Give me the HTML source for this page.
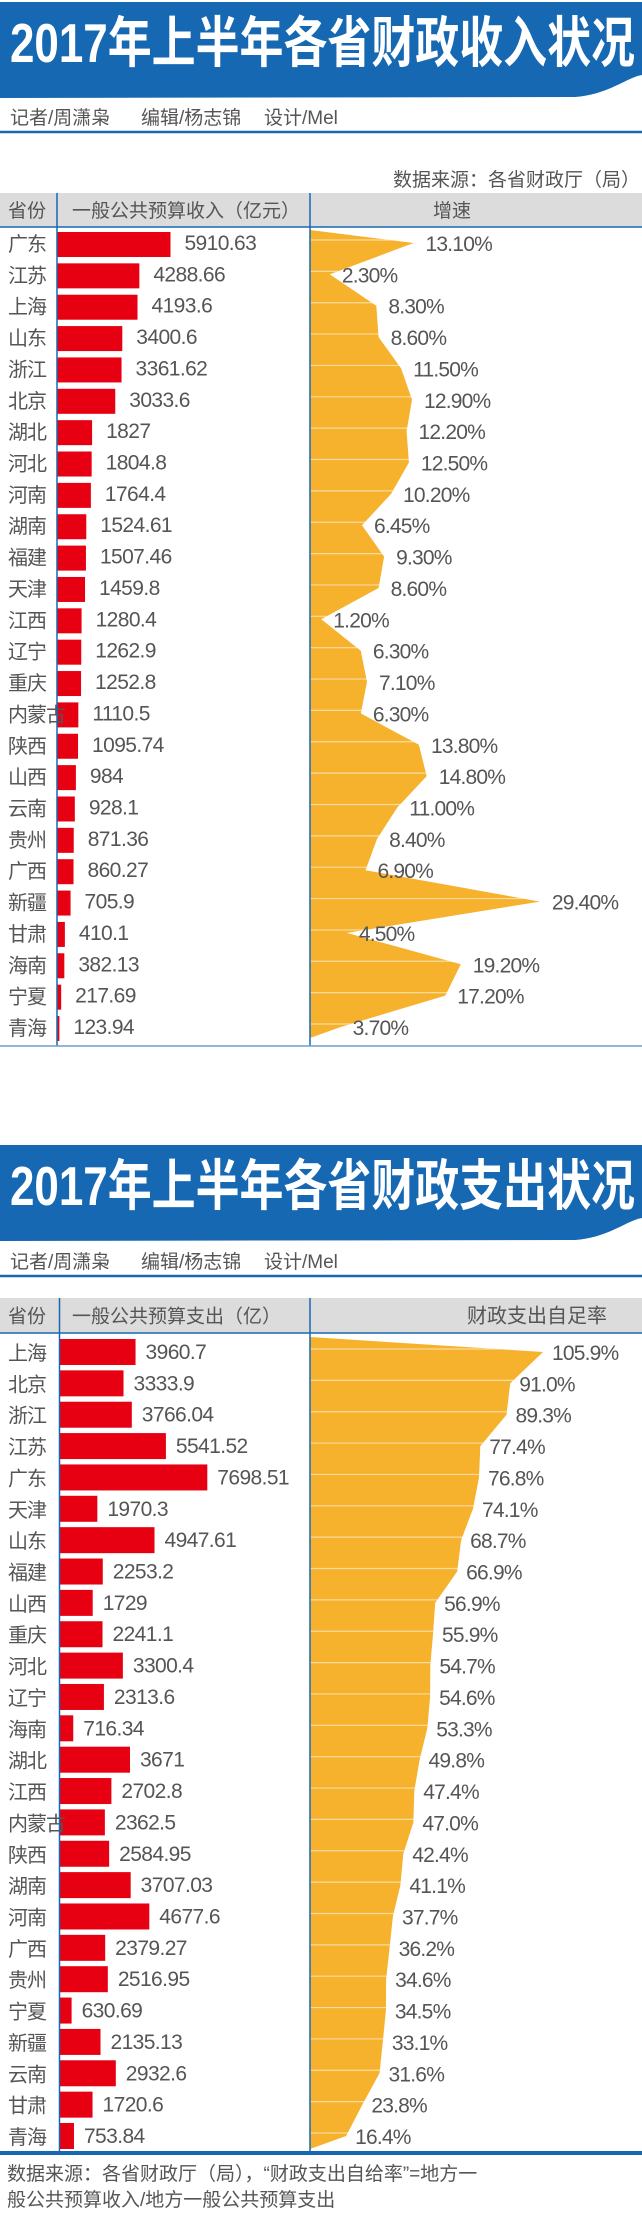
<!DOCTYPE html>
<html><head><meta charset="utf-8">
<style>
html,body{margin:0;padding:0;background:#fff;}
svg{display:block;}
text{font-family:"Liberation Sans","Noto Sans CJK SC",sans-serif;}
</style></head>
<body>
<svg id="root" width="642" height="2229" viewBox="0 0 642 2229" xmlns="http://www.w3.org/2000/svg">
<defs>
<clipPath id="clip1"><polygon id="clip1poly" points="0,0"/></clipPath>
<clipPath id="clip2"><polygon id="clip2poly" points="0,0"/></clipPath>
</defs>
</svg>
<script>
// ---- Chart 1 data: revenue ----
var provinces1 = ["广东","江苏","上海","山东","浙江","北京","湖北","河北","河南","湖南","福建","天津","江西","辽宁","重庆","内蒙古","陕西","山西","云南","贵州","广西","新疆","甘肃","海南","宁夏","青海"];
var revenue = [5910.63,4288.66,4193.6,3400.6,3361.62,3033.6,1827,1804.8,1764.4,1524.61,1507.46,1459.8,1280.4,1262.9,1252.8,1110.5,1095.74,984,928.1,871.36,860.27,705.9,410.1,382.13,217.69,123.94];
var revenueLabels = ["5910.63","4288.66","4193.6","3400.6","3361.62","3033.6","1827","1804.8","1764.4","1524.61","1507.46","1459.8","1280.4","1262.9","1252.8","1110.5","1095.74","984","928.1","871.36","860.27","705.9","410.1","382.13","217.69","123.94"];
var growth = [13.1,2.3,8.3,8.6,11.5,12.9,12.2,12.5,10.2,6.45,9.3,8.6,1.2,6.3,7.1,6.3,13.8,14.8,11.0,8.4,6.9,29.4,4.5,19.2,17.2,3.7];
var growthLabels = ["13.10%","2.30%","8.30%","8.60%","11.50%","12.90%","12.20%","12.50%","10.20%","6.45%","9.30%","8.60%","1.20%","6.30%","7.10%","6.30%","13.80%","14.80%","11.00%","8.40%","6.90%","29.40%","4.50%","19.20%","17.20%","3.70%"];
// ---- Chart 2 data: expenditure ----
var provinces2 = ["上海","北京","浙江","江苏","广东","天津","山东","福建","山西","重庆","河北","辽宁","海南","湖北","江西","内蒙古","陕西","湖南","河南","广西","贵州","宁夏","新疆","云南","甘肃","青海"];
var expenditure = [3960.7,3333.9,3766.04,5541.52,7698.51,1970.3,4947.61,2253.2,1729,2241.1,3300.4,2313.6,716.34,3671,2702.8,2362.5,2584.95,3707.03,4677.6,2379.27,2516.95,630.69,2135.13,2932.6,1720.6,753.84];
var expenditureLabels = ["3960.7","3333.9","3766.04","5541.52","7698.51","1970.3","4947.61","2253.2","1729","2241.1","3300.4","2313.6","716.34","3671","2702.8","2362.5","2584.95","3707.03","4677.6","2379.27","2516.95","630.69","2135.13","2932.6","1720.6","753.84"];
var selfRate = [105.9,91.0,89.3,77.4,76.8,74.1,68.7,66.9,56.9,55.9,54.7,54.6,53.3,49.8,47.4,47.0,42.4,41.1,37.7,36.2,34.6,34.5,33.1,31.6,23.8,16.4];
var selfRateLabels = ["105.9%","91.0%","89.3%","77.4%","76.8%","74.1%","68.7%","66.9%","56.9%","55.9%","54.7%","54.6%","53.3%","49.8%","47.4%","47.0%","42.4%","41.1%","37.7%","36.2%","34.6%","34.5%","33.1%","31.6%","23.8%","16.4%"];

var NS="http://www.w3.org/2000/svg";
var root=document.getElementById('root');
function mk(tag,attrs,parent){var e=document.createElementNS(NS,tag);for(var k in attrs)e.setAttribute(k,attrs[k]);(parent||root).appendChild(e);return e;}
function txt(s,attrs,parent){var e=mk('text',attrs,parent);e.textContent=s;return e;}

var BLUE="#1668b3", RED="#e60012", ORANGE="#f6b12d", GREY="#555";
var PITCH=31.36;

function banner(y0,title){
  var g=mk('g',{});
  
  
  var p=mk('path',{d:'M0,'+(y0)+' H642 V'+(y0+73)+' C625,'+(y0+76)+' 610,'+(y0+92)+' 575,'+(y0+95)+' L0,'+(y0+96)+' Z',fill:BLUE},g);
  
  
  var t=txt(title,{x:10,y:y0+60,'font-size':55,'font-weight':'bold',fill:'#fff',textLength:625,lengthAdjust:'spacingAndGlyphs'},g);
  
  
}
function byline(y){
  var g=mk('g',{'font-size':19,fill:GREY});
  
  
  var a=txt('记者/周潇枭',{x:10,y:y},g);
  var b=txt('编辑/杨志锦',{x:141,y:y},g);
  var c=txt('设计/Mel',{x:264,y:y},g);
}

function chart(cfg){
  var g=mk('g',{});
  
  
  // header
  var hb=mk('rect',{x:0,y:cfg.headTop,width:642,height:cfg.headBot-cfg.headTop,fill:'#dcdcdc'},g);
  
  
  var hl=mk('line',{x1:0,x2:642,y1:cfg.headBot,y2:cfg.headBot,stroke:BLUE,'stroke-width':1.5},g);
  
  
  var hy=(cfg.headTop+cfg.headBot)/2+7;
  var h1=txt('省份',{x:8,y:hy,'font-size':19,fill:GREY},g);
  var h2=txt(cfg.h2,{x:72,y:hy,'font-size':19,fill:GREY},g);
  var h3=txt(cfg.h3,cfg.h3attrs,g);
  h3.setAttribute('y',hy);h3.setAttribute('font-size',cfg.h3size);h3.setAttribute('fill',GREY);

  var x0=cfg.x0, k=0.0192;
  function xBar(v){return x0+v*k;}
  function xArea(v){return 310+v*cfg.areaK+cfg.areaOff;}
  function yRow(i){return cfg.row0+i*PITCH;}
  var n=cfg.names.length;
  // area
  var pts=[[310,cfg.areaTop]];
  for(var i=0;i<n;i++)pts.push([xArea(cfg.rates[i]),yRow(i)]);
  pts.push([310,cfg.areaBot]);
  var ps=pts.map(function(p){return p[0].toFixed(1)+','+p[1].toFixed(1);}).join(' ');
  document.getElementById(cfg.clip+'poly').setAttribute('points',ps);
  var area=mk('polygon',{points:ps,fill:ORANGE},g);
  
  
  var gl=mk('g',{'clip-path':'url(#'+cfg.clip+')'},g);
  for(i=0;i<n;i++){
    var ln=mk('line',{x1:310,x2:642,y1:yRow(i)-3,y2:yRow(i)-3,stroke:'#fff','stroke-opacity':0.55,'stroke-width':1.2},gl);
    
    
  }
  // bars
  for(i=0;i<n;i++){
    var yc=yRow(i);
    var r=mk('rect',{x:x0,y:yc-cfg.barUp,width:Math.max(1.5,xBar(cfg.vals[i])-x0),height:cfg.barH,fill:RED},g);
    
    
    var vl=txt(cfg.valLabels[i],{x:xBar(cfg.vals[i])+cfg.gap,y:yc+7,'font-size':21,fill:GREY,'letter-spacing':-0.6},g);
    
    
    var rl=txt(cfg.rateLabels[i],{x:xArea(cfg.rates[i])+cfg.rgap,y:yc+8,'font-size':21,fill:GREY,'letter-spacing':-0.8},g);
    
    
  }
  for(i=0;i<n;i++){
    var nm=txt(cfg.names[i],{x:8,y:yRow(i)+8,'font-size':20,fill:GREY,'letter-spacing':-1},g);
    
    
  }
  // column separators
  var s1=mk('line',{x1:x0,x2:x0,y1:cfg.headTop,y2:cfg.bottom,stroke:BLUE,'stroke-width':1.5},g);
  
  
  var s2=mk('line',{x1:310,x2:310,y1:cfg.headTop,y2:cfg.bottom,stroke:BLUE,'stroke-width':1.5},g);
  
  
  var bl=mk('line',{x1:0,x2:642,y1:cfg.bottom,y2:cfg.bottom,stroke:cfg.botColor,'stroke-width':cfg.botW},g);
  
  
}

// ===== Chart 1 =====
banner(2,'2017年上半年各省财政收入状况');
byline(124);
var r1=mk('line',{x1:0,x2:642,y1:132,y2:132,stroke:BLUE,'stroke-width':2.5});


var src=txt('数据来源：各省财政厅（局）',{x:640,y:186,'font-size':19,fill:GREY,'text-anchor':'end'});


chart({name:'revenue-chart',headTop:193,headBot:227,h2:'一般公共预算收入（亿元）',h3:'增速',h3attrs:{x:452,'text-anchor':'middle'},h3size:19,
  x0:57,names:provinces1,vals:revenue,valLabels:revenueLabels,rates:growth,rateLabels:growthLabels,
  areaK:7.75,areaOff:2,row0:243,areaTop:230,areaBot:1038,barUp:11,barH:25,gap:14,rgap:12,clip:'clip1',
  bottom:1046,botColor:'#6f9fd0',botW:1.5});

// ===== Chart 2 =====
banner(1145,'2017年上半年各省财政支出状况');
byline(1268);
var r2=mk('line',{x1:0,x2:642,y1:1276,y2:1276,stroke:BLUE,'stroke-width':2.5});


chart({name:'expenditure-chart',headTop:1298,headBot:1333,h2:'一般公共预算支出（亿）',h3:'财政支出自足率',h3attrs:{x:467},h3size:20,
  x0:59.5,names:provinces2,vals:expenditure,valLabels:expenditureLabels,rates:selfRate,rateLabels:selfRateLabels,
  areaK:2.2,areaOff:0,row0:1352,areaTop:1337,areaBot:2149,barUp:13,barH:26,gap:10,rgap:9,clip:'clip2',
  bottom:2153,botColor:BLUE,botW:4});

var f1=txt('数据来源：各省财政厅（局），“财政支出自给率”=地方一',{x:7,y:2180,'font-size':19,fill:GREY});


var f2=txt('般公共预算收入/地方一般公共预算支出',{x:7,y:2206,'font-size':19,fill:GREY});


</script>
</body></html>
